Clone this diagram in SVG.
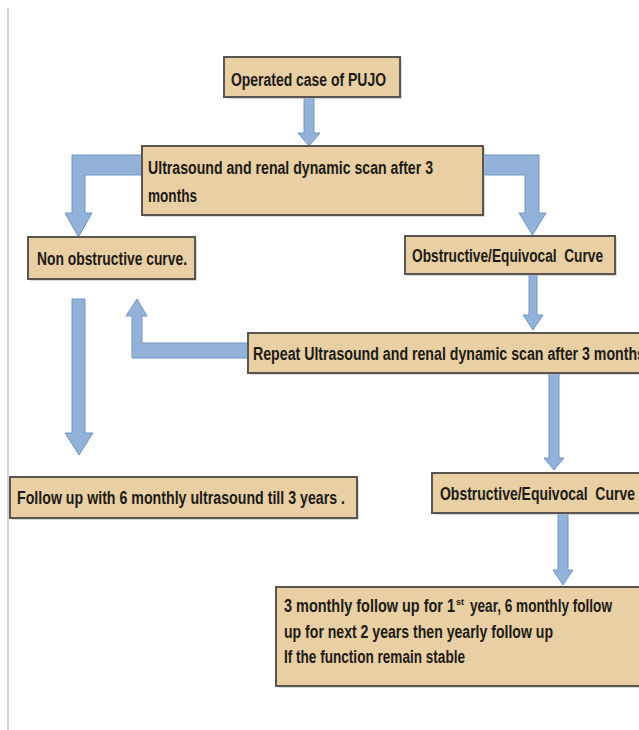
<svg xmlns="http://www.w3.org/2000/svg" width="639" height="730" viewBox="0 0 639 730">
<style>
.box{fill:#E8CFA4;stroke:#5A5550;stroke-width:2}
.shadow{fill:#B8B4AE;opacity:0.5}
.arr{fill:#92B2DA;stroke:#7196C4;stroke-width:1}
.t{font-family:"Liberation Sans",Arial,sans-serif;font-weight:bold;font-size:18px;fill:#1E1A16}
.sup{font-family:"Liberation Sans",Arial,sans-serif;font-weight:bold;font-size:9px;fill:#1E1A16}
</style>
<rect width="639" height="730" fill="#FFFFFF"/>
<line x1="8" y1="8" x2="8" y2="730" stroke="#C8C8C8" stroke-width="1.5"/>

<g id="connectors">
<polygon class="arr" points="304,97 314,97 314,133 320,133 309,146 298,133 304,133"/>
<polygon class="arr" points="142,155 72,155 72,213 65,213 78.5,237 92,213 85,213 85,175 142,175"/>
<polygon class="arr" points="483,155 539,155 539,213 546,213 532.5,235 519,213 525,213 525,175 483,175"/>
<polygon class="arr" points="529,274 537,274 537,315 543,315 533,330 523,315 529,315"/>
<polygon class="arr" points="72,299 85,299 85,433 93,433 79,455 65,433 72,433"/>
<polygon class="arr" points="248,343 142,343 142,316 147,316 137,299 126,316 132,316 132,358 248,358"/>
<polygon class="arr" points="549,373 559,373 559,458 564,458 554,470 544,458 549,458"/>
<polygon class="arr" points="558,513 568,513 568,570 573,570 563,585 553,570 558,570"/>
</g>

<g id="n1">
<rect class="shadow" x="226" y="59" width="176" height="40"/>
<rect class="box" x="224" y="57" width="176" height="40"/>
<text class="t" x="231" y="86" textLength="155" lengthAdjust="spacingAndGlyphs">Operated case of PUJO</text>
</g>

<g id="n2">
<rect class="shadow" x="144" y="148" width="341" height="69"/>
<rect class="box" x="142" y="146" width="341" height="69"/>
<text class="t" x="148" y="174" textLength="285" lengthAdjust="spacingAndGlyphs">Ultrasound and renal dynamic scan after 3</text>
<text class="t" x="148" y="202" textLength="49" lengthAdjust="spacingAndGlyphs">months</text>
</g>

<g id="n3">
<rect class="shadow" x="30" y="239" width="167" height="42"/>
<rect class="box" x="28" y="237" width="167" height="42"/>
<text class="t" x="37" y="265" textLength="150" lengthAdjust="spacingAndGlyphs">Non obstructive curve.</text>
</g>

<g id="n4">
<rect class="shadow" x="407" y="238" width="210" height="38"/>
<rect class="box" x="405" y="236" width="210" height="38"/>
<text class="t" x="412" y="262" textLength="191" lengthAdjust="spacingAndGlyphs" xml:space="preserve">Obstructive/Equivocal  Curve</text>
</g>

<g id="n5">
<rect class="shadow" x="250" y="335" width="400" height="40"/>
<rect class="box" x="248" y="333" width="400" height="40"/>
<text class="t" x="253" y="360" textLength="392" lengthAdjust="spacingAndGlyphs">Repeat Ultrasound and renal dynamic scan after 3 months</text>
</g>

<g id="n6">
<rect class="shadow" x="12" y="479" width="347" height="41"/>
<rect class="box" x="10" y="477" width="347" height="41"/>
<text class="t" x="17" y="504" textLength="328" lengthAdjust="spacingAndGlyphs">Follow up with 6 monthly ultrasound till 3 years .</text>
</g>

<g id="n7">
<rect class="shadow" x="434" y="475" width="212" height="40"/>
<rect class="box" x="432" y="473" width="212" height="40"/>
<text class="t" x="440" y="500" textLength="195" lengthAdjust="spacingAndGlyphs" xml:space="preserve">Obstructive/Equivocal  Curve</text>
</g>

<g id="n8">
<rect class="shadow" x="278" y="589" width="370" height="99"/>
<rect class="box" x="276" y="587" width="370" height="99"/>
<text class="t" x="284" y="612" textLength="171" lengthAdjust="spacingAndGlyphs">3 monthly follow up for 1</text>
<text class="sup" x="456" y="605">st</text>
<text class="t" x="470" y="612" textLength="142" lengthAdjust="spacingAndGlyphs">year, 6 monthly follow</text>
<text class="t" x="284" y="638" textLength="269" lengthAdjust="spacingAndGlyphs">up for next 2 years then yearly follow up</text>
<text class="t" x="284" y="663" textLength="181" lengthAdjust="spacingAndGlyphs">If the function remain stable</text>
</g>
</svg>
